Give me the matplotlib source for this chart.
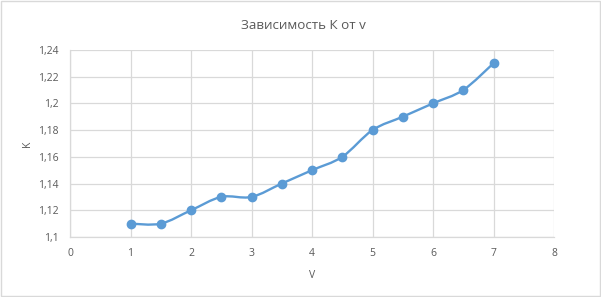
import matplotlib
matplotlib.use("Agg")
import matplotlib.pyplot as plt
import numpy as np
from matplotlib.path import Path
from matplotlib.patches import PathPatch, Rectangle

# data
v_vals = [1, 1.5, 2, 2.5, 3, 3.5, 4, 4.5, 5, 5.5, 6, 6.5, 7]
k_vals = [1.11, 1.11, 1.12, 1.13, 1.13, 1.14, 1.15, 1.16, 1.18, 1.19, 1.20, 1.21, 1.23]
x_ticks = [0, 1, 2, 3, 4, 5, 6, 7, 8]
y_ticks = [1.10, 1.12, 1.14, 1.16, 1.18, 1.20, 1.22, 1.24]

line_color = "#5b9bd5"
text_color = "#595959"
grid_color = "#d9d9d9"

plt.rcParams["font.family"] = ["Open Sans", "DejaVu Sans"]

fig = plt.figure(figsize=(6.01, 2.97), dpi=100)
ax = fig.add_axes([0.1165, 0.202, 0.8053, 0.630])

# smooth line like excel's "smoothed line" (catmull-rom as bezier segments)
x = np.array(v_vals)
y = np.array(k_vals)
verts = [(x[0], y[0])]
codes = [Path.MOVETO]
for i in range(len(x) - 1):
    p0 = (x[i - 1], y[i - 1]) if i > 0 else (x[i], y[i])
    p3 = (x[i + 2], y[i + 2]) if i + 2 < len(x) else (x[i + 1], y[i + 1])
    c1 = (x[i] + (x[i + 1] - p0[0]) / 6, y[i] + (y[i + 1] - p0[1]) / 6)
    c2 = (x[i + 1] - (p3[0] - x[i]) / 6, y[i + 1] - (p3[1] - y[i]) / 6)
    verts += [c1, c2, (x[i + 1], y[i + 1])]
    codes += [Path.CURVE4] * 3
ax.add_patch(PathPatch(Path(verts, codes), facecolor="none", edgecolor=line_color,
                       lw=1.7, zorder=3, capstyle="round"))
ax.plot(v_vals, k_vals, ls="", marker="o", ms=6, color=line_color, zorder=4)

ax.set_xlim(0, 8)
ax.set_ylim(1.10, 1.24)
ax.set_xticks(x_ticks)
ax.set_yticks(y_ticks)
ax.set_xticklabels([str(t) for t in x_ticks])
ax.set_yticklabels([f"{t:g}".replace(".", ",") for t in y_ticks])
ax.tick_params(length=0, labelsize=7.5, colors=text_color, pad=8)
ax.grid(True, color=grid_color, lw=0.9)
ax.set_axisbelow(True)
for side in ["top", "right"]:
    ax.spines[side].set_visible(False)
for side in ["left", "bottom"]:
    ax.spines[side].set_color(grid_color)
    ax.spines[side].set_linewidth(0.9)

ax.set_xlabel("V", fontsize=7.5, color=text_color, labelpad=8)
ax.set_ylabel("K", fontsize=7.5, color=text_color, labelpad=4)
fig.suptitle("Зависимость К от v", x=0.505, y=0.935, fontsize=9.6, color=text_color)

fig.add_artist(Rectangle((0.001, 0.002), 0.997, 0.995, transform=fig.transFigure,
                         facecolor="none", edgecolor=grid_color, lw=1))

fig.savefig("out.png", dpi=100)
